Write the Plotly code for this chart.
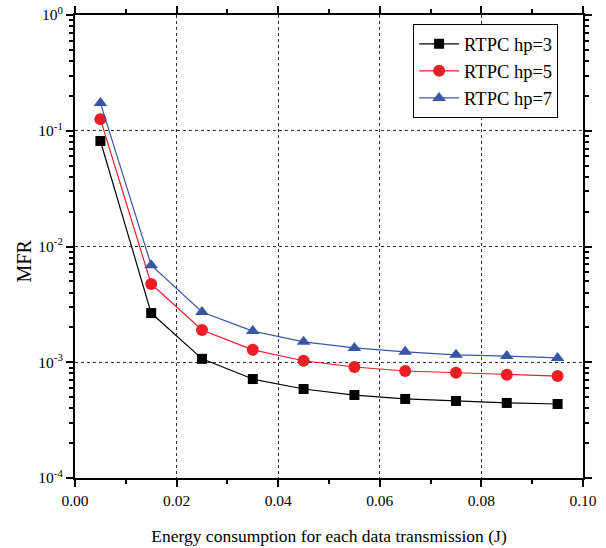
import plotly.graph_objects as go

x_vals = [0.005, 0.015, 0.025, 0.035, 0.045, 0.055, 0.065, 0.075, 0.085, 0.095]
hp3 = [0.0815, 0.00266, 0.00107, 0.000716, 0.000587, 0.000521, 0.000482, 0.000463, 0.000445, 0.000436]
hp5 = [0.126, 0.00474, 0.0019, 0.00128, 0.00103, 0.00091, 0.00084, 0.00081, 0.00078, 0.00076]
hp7 = [0.174, 0.0069, 0.00272, 0.00186, 0.0015, 0.00133, 0.00123, 0.00116, 0.00113, 0.00109]
series_names = ["RTPC hp=3", "RTPC hp=5", "RTPC hp=7"]
x_ticks = [0.00, 0.02, 0.04, 0.06, 0.08, 0.10]
x_ticktext = ["0.00", "0.02", "0.04", "0.06", "0.08", "0.10"]
y_ticks = [1e-4, 1e-3, 1e-2, 1e-1, 1e0]
y_ticktext = ["10<sup>-4</sup>", "10<sup>-3</sup>", "10<sup>-2</sup>", "10<sup>-1</sup>", "10<sup>0</sup>"]

font = "Liberation Serif, Times New Roman, serif"
colors = ["#000000", "#ee1c25", "#3a55a4"]
symbols = ["square", "circle", "triangle-up"]
sizes = [10, 12, 12]

fig = go.Figure()
for name, ys, c, s, sz in zip(series_names, [hp3, hp5, hp7], colors, symbols, sizes):
    fig.add_trace(go.Scatter(x=x_vals, y=ys, mode="lines+markers", name=name,
                             line=dict(color=c, width=1.2),
                             marker=dict(symbol=s, size=sz, color=c)))

minor_y = [m * 10 ** e for e in range(-4, 0) for m in range(2, 10)]
minor_x = [0.01, 0.03, 0.05, 0.07, 0.09]

fig.update_layout(
    width=606, height=548,
    margin=dict(l=75, r=23, t=15, b=70),
    paper_bgcolor="white", plot_bgcolor="white",
    font=dict(family=font, color="black", size=15),
    legend=dict(x=0.951, y=0.98, xanchor="right", yanchor="top",
                bordercolor="black", borderwidth=1, bgcolor="white",
                font=dict(family=font, size=18.5), tracegroupgap=0, itemwidth=40),
    showlegend=True,
    annotations=[dict(text="MFR", xref="paper", yref="paper",
                      x=(23 - 75) / 508, y=(478 - 261.5) / 463,
                      xanchor="center", yanchor="middle", textangle=-90,
                      showarrow=False, font=dict(family=font, size=20, color="black"))],
)
fig.update_xaxes(
    range=[0, 0.10], tickvals=x_ticks, ticktext=x_ticktext, automargin=False,
    showline=True, linecolor="black", linewidth=2, mirror="allticks",
    ticks="outside", ticklen=7, tickwidth=2, tickcolor="black",
    showgrid=True, gridcolor="#333", griddash="dot", gridwidth=1,
    zeroline=False,
    minor=dict(tickvals=minor_x, ticks="outside", ticklen=4, tickwidth=2, tickcolor="black", showgrid=False),
    title=dict(text="Energy consumption for each data transmission (J)", font=dict(size=17.5), standoff=22),
    tickfont=dict(size=15.5),
)
fig.update_yaxes(
    type="log", range=[-4, 0], tickvals=y_ticks, ticktext=y_ticktext, automargin=False,
    showline=True, linecolor="black", linewidth=2, mirror="allticks",
    ticks="outside", ticklen=7, tickwidth=2, tickcolor="black",
    showgrid=True, gridcolor="#333", griddash="dot", gridwidth=1,
    minor=dict(tickvals=minor_y, ticks="outside", ticklen=4, tickwidth=2, tickcolor="black", showgrid=False),
    tickfont=dict(size=15.5),
)

fig.write_html("out.html")
